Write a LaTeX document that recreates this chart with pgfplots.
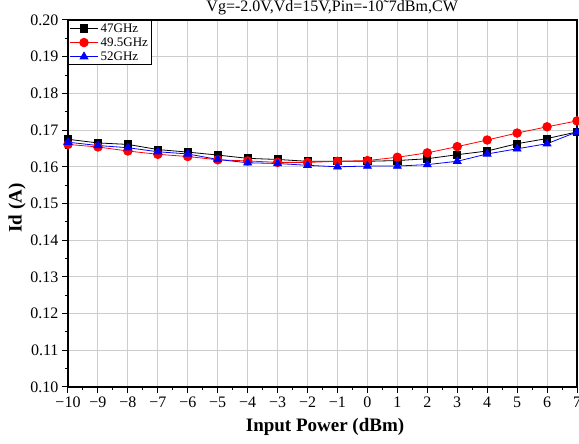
\documentclass[border=0pt]{standalone}
\usepackage{fontspec}
\setmainfont{Liberation Serif}
\usepackage{pgfplots}
\pgfplotsset{compat=1.18}

\definecolor{gridgray}{RGB}{205,205,205}
\definecolor{cred}{RGB}{255,0,0}
\definecolor{cblue}{RGB}{0,0,255}

% Id vs input power, three frequencies
\pgfplotstableread{
pin  f47     f495    f52
-10  0.1675  0.1661  0.1667
-9   0.1665  0.1654  0.1658
-8   0.1661  0.1643  0.1652
-7   0.1647  0.1634  0.1641
-6   0.1640  0.1628  0.1635
-5   0.1632  0.1619  0.1620
-4   0.1623  0.1616  0.1611
-3   0.1620  0.1612  0.1609
-2   0.1615  0.1612  0.1604
-1   0.1615  0.1615  0.1600
0    0.1615  0.1617  0.1602
1    0.1617  0.1626  0.1602
2    0.1622  0.1638  0.1606
3    0.1633  0.1655  0.1615
4    0.1643  0.1673  0.1635
5    0.1663  0.1692  0.1649
6    0.1677  0.1709  0.1663
7    0.1695  0.1725  0.1695
}\iddata

\begin{document}
\begin{tikzpicture}
\begin{axis}[
    at={(0,0)}, anchor=south west,
    scale only axis, width=509pt, height=367pt,
    xmin=-10, xmax=7, ymin=0.10, ymax=0.20,
    xtick={-10,-9,-8,-7,-6,-5,-4,-3,-2,-1,0,1,2,3,4,5,6,7},
    xticklabels={−10,−9,−8,−7,−6,−5,−4,−3,−2,−1,0,1,2,3,4,5,6,7},
    ytick={0.10,0.11,0.12,0.13,0.14,0.15,0.16,0.17,0.18,0.19,0.20},
    minor x tick num=1, minor y tick num=1,
    tick pos=left, tick align=outside,
    major tick length=6pt, minor tick length=3pt,
    every tick/.style={black, line width=1pt},
    grid=major, major grid style={gridgray, line width=0.9pt},
    axis line style={black, line width=1.2pt},
    yticklabel style={/pgf/number format/fixed, /pgf/number format/fixed zerofill,
        /pgf/number format/precision=2, /pgf/number format/assume math mode=true},
    tick label style={font=\fontsize{16}{16}\selectfont},
    xlabel={Input Power (dBm)},
    ylabel={Id (A)},
    xlabel style={at={(axis description cs:0.505,0)}, anchor=north, yshift=-31pt,
        inner sep=0pt, font=\fontsize{19}{19}\selectfont\bfseries},
    ylabel style={at={(axis description cs:-0.1,0.488)}, anchor=center,
        inner sep=0pt, font=\fontsize{19}{19}\selectfont\bfseries},
    title={Vg=-2.0V,Vd=15V,Pin=-10˜7dBm,CW},
    title style={at={(axis description cs:0.519,1)}, anchor=base, yshift=2.5pt,
        inner sep=0pt, font=\fontsize{16}{16}\selectfont},
    legend style={at={(0,1)}, anchor=north west, draw=black, line width=0.8pt,
        font=\fontsize{13}{13}\selectfont, inner sep=1pt, row sep=0pt,
        fill=white},
    legend cell align=left,
    legend image code/.code={
        \draw[mark repeat=2,mark phase=2] plot coordinates {(0cm,0cm)(0.5cm,0cm)(1.0cm,0cm)};},
]
\addplot[black, line width=0.8pt, mark=square*, mark size=3.6pt,
    mark options={solid, fill=black}] table[x=pin, y=f47] {\iddata};
\addplot[cred, line width=0.8pt, mark=*, mark size=4.3pt,
    mark options={solid, fill=cred}] table[x=pin, y=f495] {\iddata};
\addplot[cblue, line width=0.8pt, mark=triangle*, mark size=4.5pt,
    mark options={solid, fill=cblue}] table[x=pin, y=f52] {\iddata};
\legend{47GHz, 49.5GHz, 52GHz}
\end{axis}
\pgfresetboundingbox
\path[use as bounding box] (-68pt,-57pt) rectangle (511pt,387pt);
\end{tikzpicture}
\end{document}
